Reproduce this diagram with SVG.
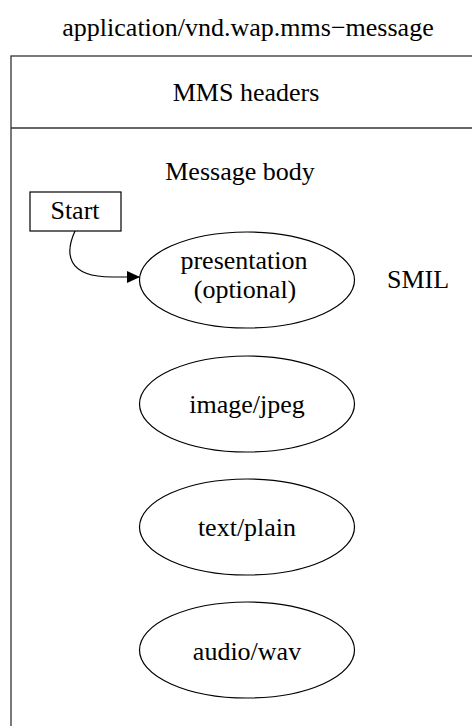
<svg xmlns="http://www.w3.org/2000/svg" width="472" height="726" viewBox="0 0 472 726">
  <style>
    .frame { fill: none; stroke: #333; stroke-width: 1.3; }
    .node { fill: #fff; stroke: #000; stroke-width: 1.2; }
    .edge { fill: none; stroke: #000; stroke-width: 1.2; }
  </style>
  <defs>
    <marker id="arrow" viewBox="0 0 13 12" refX="13" refY="6" markerWidth="13" markerHeight="12" markerUnits="userSpaceOnUse" orient="auto">
      <path d="M0,0 L13,6 L0,12 Z" fill="#000"/>
    </marker>
  </defs>

  <g font-family="Liberation Serif, Times New Roman, Times, serif" font-size="26" text-anchor="middle" fill="#000">
    <text x="248" y="36">application/vnd.wap.mms−message</text>

    <g id="container">
      <rect class="frame" x="11" y="56" width="480" height="700"/>
      <line class="frame" x1="11" y1="128" x2="472" y2="128"/>
      <text x="246" y="101">MMS headers</text>
      <text x="240" y="180">Message body</text>
      <text x="418" y="288">SMIL</text>
    </g>

    <g id="connectors">
      <path class="edge" d="M75,231 C65,253 66,277 112,277 L140,277" marker-end="url(#arrow)"/>
    </g>

    <g id="start">
      <rect class="node" x="30" y="192" width="91" height="39"/>
      <text x="75" y="219">Start</text>
    </g>

    <g id="presentation">
      <ellipse class="node" cx="247" cy="280" rx="107.5" ry="48"/>
      <text x="244" y="269">presentation</text>
      <text x="245" y="298">(optional)</text>
    </g>

    <g id="image-jpeg">
      <ellipse class="node" cx="247" cy="404" rx="107.5" ry="48"/>
      <text x="247" y="413">image/jpeg</text>
    </g>

    <g id="text-plain">
      <ellipse class="node" cx="247" cy="527" rx="107.5" ry="48"/>
      <text x="247" y="536">text/plain</text>
    </g>

    <g id="audio-wav">
      <ellipse class="node" cx="247" cy="650" rx="107.5" ry="48"/>
      <text x="247" y="660">audio/wav</text>
    </g>
  </g>
</svg>
